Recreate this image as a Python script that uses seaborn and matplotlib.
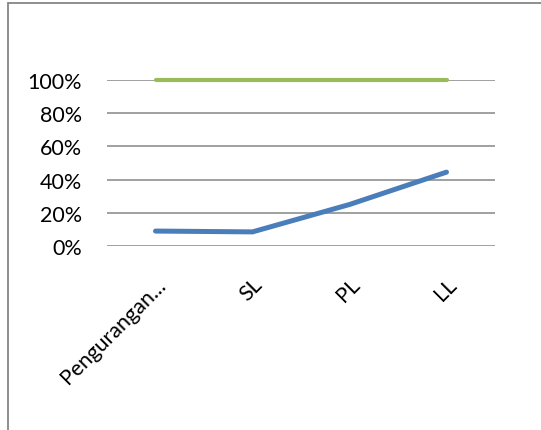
import matplotlib
matplotlib.use("Agg")
import matplotlib.pyplot as plt
import seaborn as sns
import pandas as pd
from matplotlib.lines import Line2D
from matplotlib.ticker import PercentFormatter

categories = ["Pengurangan...", "SL", "PL", "LL"]
series_blue = [9.0, 8.5, 25.0, 44.5]
series_green = [100, 100, 100, 100]
ytick_vals = [0, 20, 40, 60, 80, 100]

sns.set_theme(style="white")
plt.rcParams['font.family'] = ['Lato', 'DejaVu Sans']

fig = plt.figure(figsize=(5.41, 4.31), dpi=100)
ax = fig.add_axes([107/541, 1-247/431, (495-107)/541, (247-81)/431])

df = pd.DataFrame({"cat": categories, "blue": series_blue, "green": series_green})
df["x"] = range(len(categories))

for y in ytick_vals:
    ax.axhline(y, color="#868686", lw=1.1, zorder=0)

sns.lineplot(data=df, x="x", y="green", ax=ax, color="#9BBB59", lw=3.0,
             solid_capstyle="round", zorder=3, clip_on=False)
sns.lineplot(data=df, x="x", y="blue", ax=ax, color="#4A7EBB", lw=3.6,
             solid_capstyle="round", zorder=4, clip_on=False)

ax.set_xlim(-0.5, len(categories) - 0.5)
ax.set_ylim(0, 100)
ax.set_yticks(ytick_vals)
ax.yaxis.set_major_formatter(PercentFormatter(decimals=0))
ax.set_xticks(range(len(categories)))
ax.set_xticklabels(categories, rotation=45, ha="right", rotation_mode="anchor")
ax.tick_params(axis="x", length=0, pad=20, labelsize=15.5, colors="black")
ax.tick_params(axis="y", length=0, pad=18, labelsize=15.5, colors="black")
ax.set_xlabel("")
ax.set_ylabel("")
for s in ax.spines.values():
    s.set_visible(False)

# outer chart border (left and top)
fig.add_artist(Line2D([7.5/541, 7.5/541], [0, 1-4/431], transform=fig.transFigure,
                      color="#868686", lw=1.3))
fig.add_artist(Line2D([7.5/541, 1], [1-4/431, 1-4/431], transform=fig.transFigure,
                      color="#868686", lw=1.3))

fig.savefig("out.png", dpi=100)
